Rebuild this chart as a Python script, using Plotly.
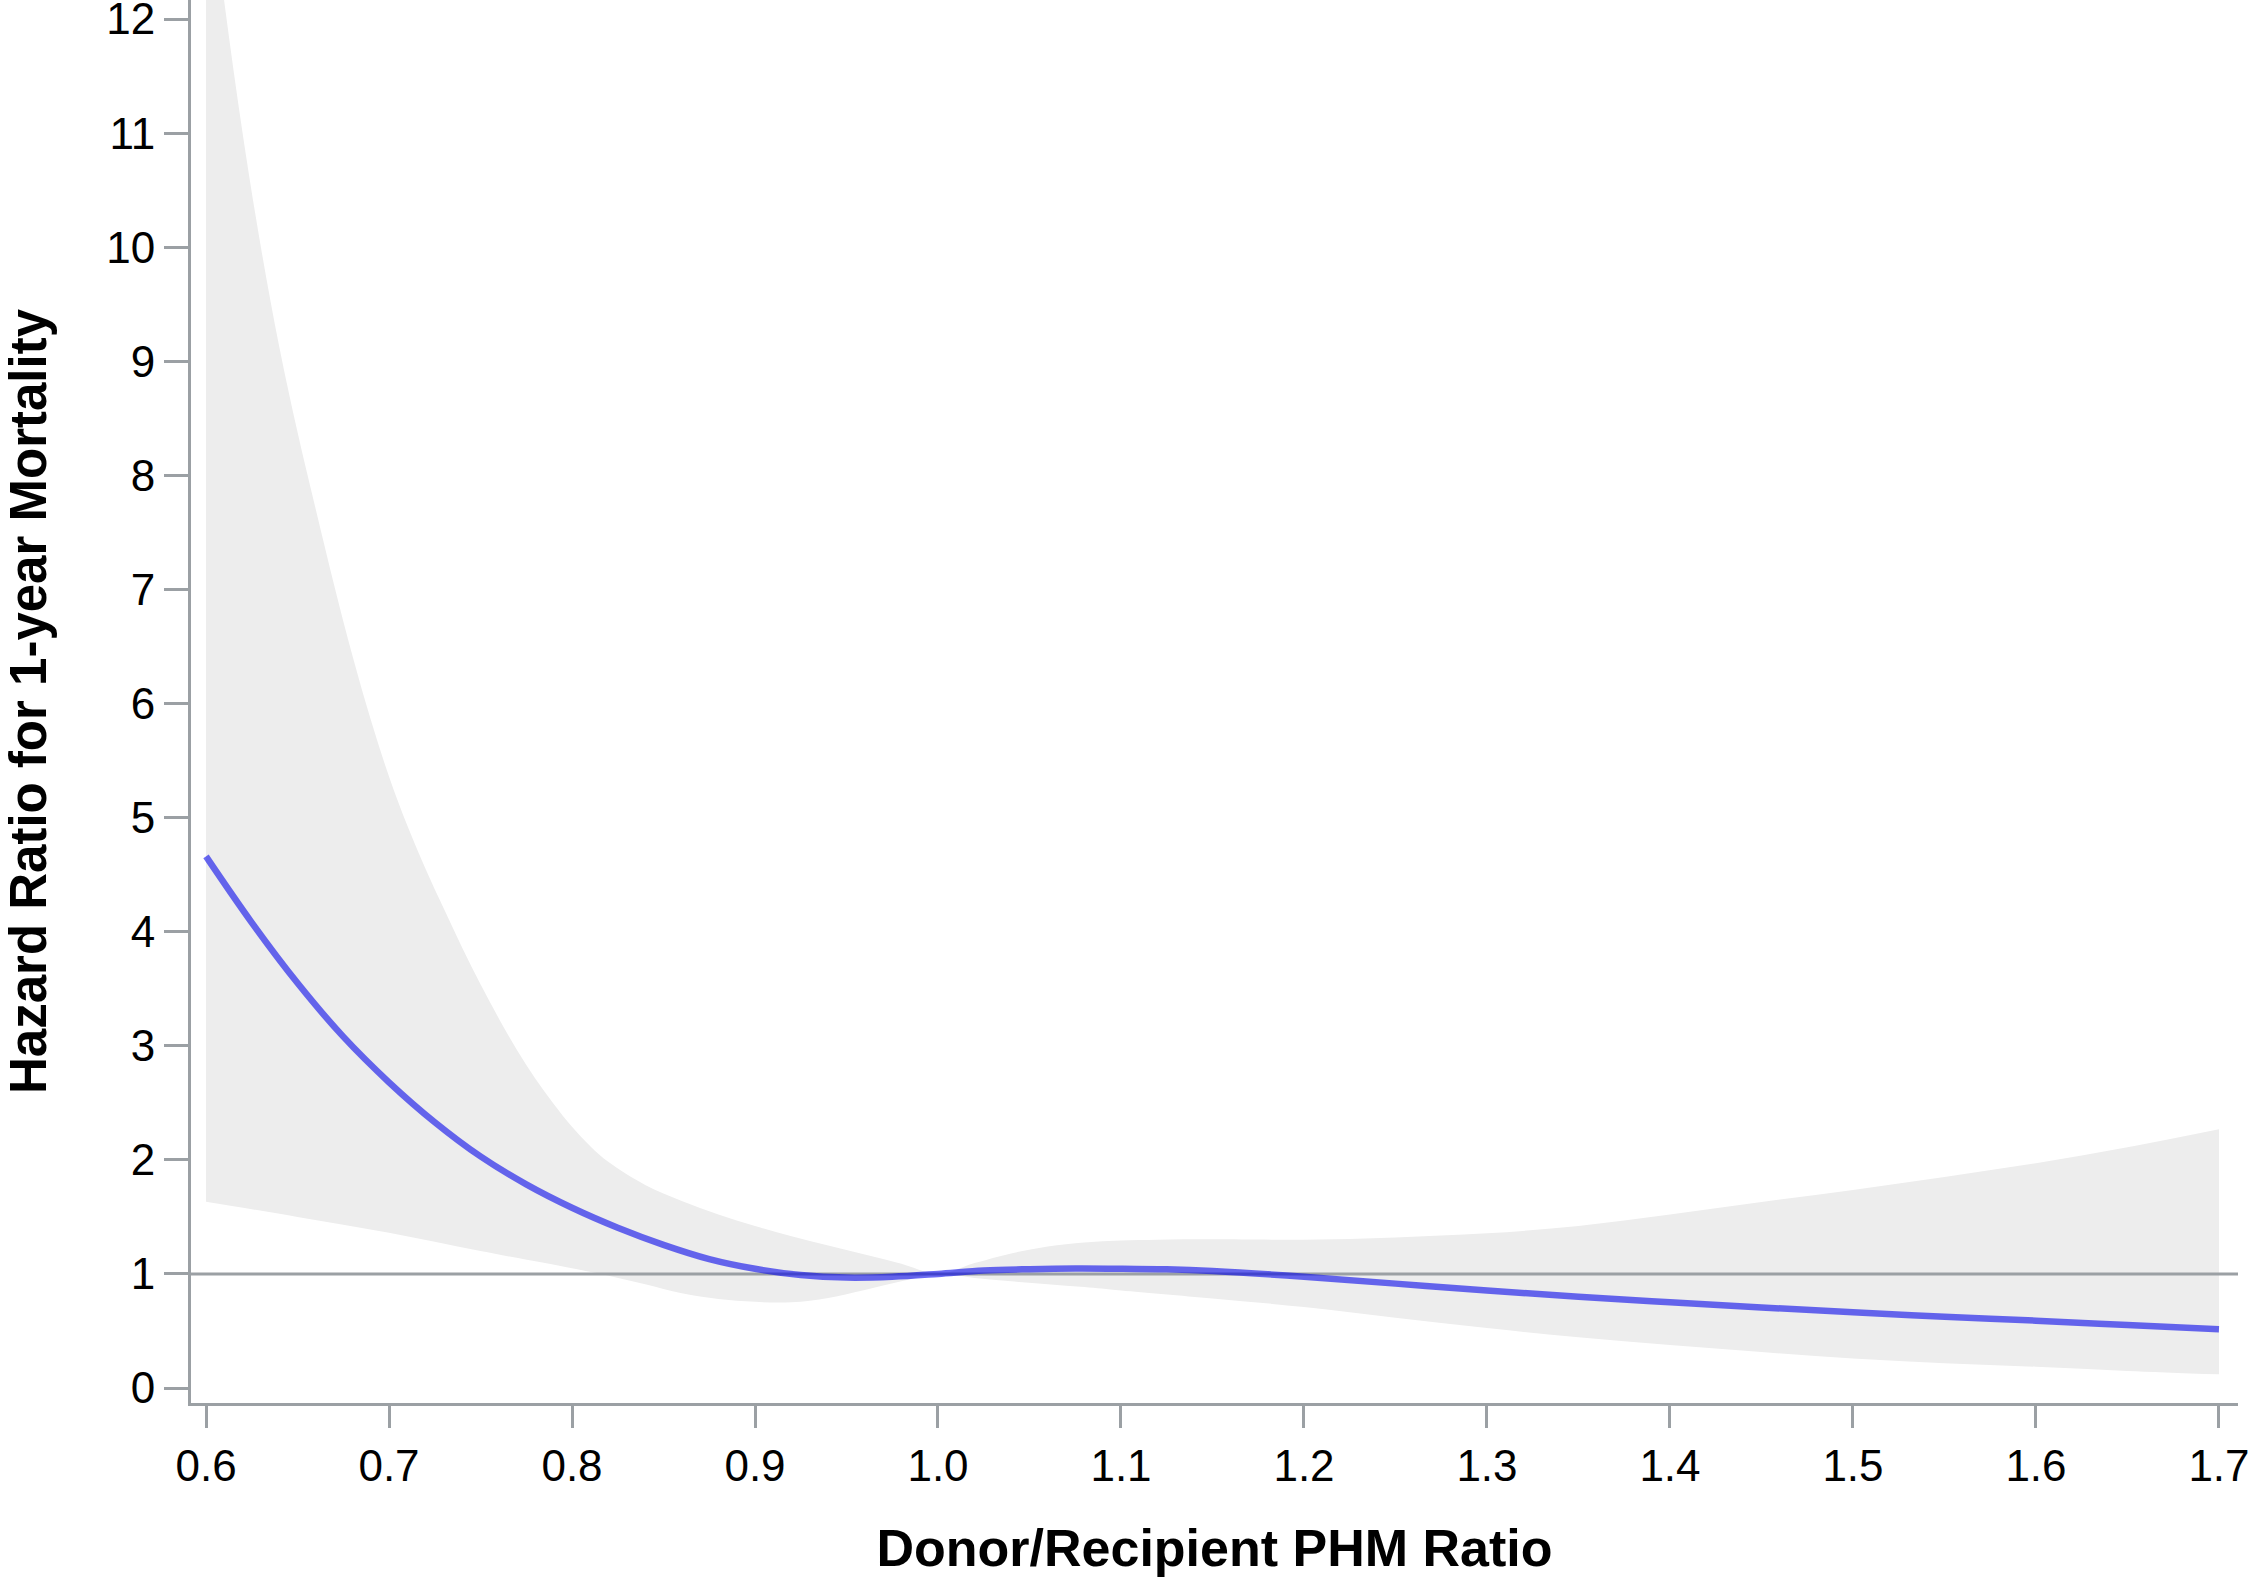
import plotly.graph_objects as go

# ---- data ----
band_upper_x = [0.600, 0.610, 0.620, 0.630, 0.640, 0.650, 0.660, 0.670, 0.680, 0.690,
                0.700, 0.710, 0.720, 0.730, 0.740, 0.750, 0.760, 0.770, 0.780, 0.790,
                0.800, 0.810, 0.820, 0.840, 0.860, 0.880, 0.900, 0.920, 0.940, 0.960,
                0.980, 1.000, 1.020, 1.040, 1.060, 1.080, 1.100, 1.120, 1.150, 1.200,
                1.250, 1.300, 1.350, 1.400, 1.450, 1.500, 1.550, 1.600, 1.650, 1.700]
band_upper_y = [13.45, 12.15, 11.00, 10.00, 9.13, 8.38, 7.70, 7.04, 6.42, 5.86,
                5.36, 4.93, 4.55, 4.20, 3.86, 3.54, 3.24, 2.96, 2.71, 2.49,
                2.29, 2.12, 1.98, 1.78, 1.64, 1.52, 1.42, 1.33, 1.25, 1.17,
                1.09, 1.00, 1.095, 1.18, 1.24, 1.275, 1.292, 1.300, 1.303, 1.300,
                1.320, 1.356, 1.42, 1.52, 1.63, 1.736, 1.85, 1.97, 2.11, 2.268]

band_lower_x = [0.600, 0.650, 0.700, 0.750, 0.800, 0.820, 0.840, 0.860, 0.880, 0.900,
                0.920, 0.940, 0.960, 0.980, 1.000, 1.020, 1.040, 1.060, 1.080, 1.100,
                1.150, 1.200, 1.250, 1.300, 1.350, 1.400, 1.450, 1.500, 1.550, 1.600,
                1.650, 1.700]
band_lower_y = [1.633, 1.50, 1.36, 1.20, 1.05, 0.985, 0.91, 0.83, 0.78, 0.755,
                0.752, 0.79, 0.86, 0.935, 1.00, 0.965, 0.935, 0.91, 0.885, 0.855,
                0.785, 0.71, 0.615, 0.525, 0.445, 0.377, 0.315, 0.259, 0.218, 0.186,
                0.150, 0.120]

hr_x = [0.600, 0.625, 0.650, 0.675, 0.700, 0.725, 0.750, 0.775, 0.800, 0.825,
        0.850, 0.875, 0.900, 0.925, 0.950, 0.975, 1.000, 1.025, 1.050, 1.075,
        1.100, 1.125, 1.150, 1.200, 1.250, 1.300, 1.350, 1.400, 1.450, 1.500,
        1.550, 1.600, 1.650, 1.700]
hr_y = [4.66, 4.08, 3.55, 3.08, 2.68, 2.33, 2.03, 1.785, 1.58, 1.405,
        1.255, 1.13, 1.045, 0.99, 0.968, 0.975, 1.00, 1.03, 1.042, 1.048,
        1.046, 1.040, 1.025, 0.976, 0.915, 0.854, 0.800, 0.752, 0.706, 0.663,
        0.625, 0.590, 0.552, 0.514]

reference_hr = 1.0

x_tick_vals = [0.6, 0.7, 0.8, 0.9, 1.0, 1.1, 1.2, 1.3, 1.4, 1.5, 1.6, 1.7]
x_tick_text = ["0.6", "0.7", "0.8", "0.9", "1.0", "1.1", "1.2", "1.3", "1.4", "1.5", "1.6", "1.7"]
y_tick_vals = [0, 1, 2, 3, 4, 5, 6, 7, 8, 9, 10, 11, 12]
y_tick_text = [str(v) for v in y_tick_vals]

x_range = [0.5918, 1.7104]
y_range = [-0.1315, 12.167]

# ---- styling ----
AXIS_GRAY = "#9ba0a4"
BAND_GRAY = "#ededed"
LINE_BLUE = "rgba(0,0,235,0.58)"
FONT = "Liberation Sans, Arial, Helvetica, sans-serif"

fig = go.Figure()

fig.add_trace(go.Scatter(
    x=band_lower_x, y=band_lower_y, mode="lines",
    line=dict(width=0, color=BAND_GRAY, shape="spline", smoothing=1.0),
    hoverinfo="skip", showlegend=False))
fig.add_trace(go.Scatter(
    x=band_upper_x, y=band_upper_y, mode="lines", fill="tonexty", fillcolor=BAND_GRAY,
    line=dict(width=0, color=BAND_GRAY, shape="spline", smoothing=1.0),
    hoverinfo="skip", showlegend=False))
fig.add_trace(go.Scatter(
    x=x_range, y=[reference_hr, reference_hr], mode="lines",
    line=dict(width=3, color=AXIS_GRAY), hoverinfo="skip", showlegend=False))
fig.add_trace(go.Scatter(
    x=hr_x, y=hr_y, mode="lines",
    line=dict(width=6.5, color=LINE_BLUE, shape="spline", smoothing=1.0),
    showlegend=False))

axis_common = dict(
    showgrid=False, zeroline=False, showline=True, linewidth=3, linecolor=AXIS_GRAY,
    ticks="outside", tickwidth=3, tickcolor=AXIS_GRAY,
    tickfont=dict(family=FONT, size=44, color="black"),
    automargin=False, ticklabeloverflow="allow",
)

fig.update_layout(
    template="none",
    width=2250, height=1577,
    margin=dict(l=191, r=12, t=0, b=174, pad=0),
    plot_bgcolor="white", paper_bgcolor="white",
    showlegend=False,
    font=dict(family=FONT, color="black"),
    xaxis=dict(
        **axis_common, range=x_range, ticklen=22,
        tickvals=x_tick_vals, ticktext=x_tick_text,
        title=dict(text="Donor/Recipient PHM Ratio",
                   font=dict(family=FONT, size=52, color="black", weight="bold"),
                   standoff=41),
    ),
    yaxis=dict(
        **axis_common, range=y_range, ticklen=24,
        tickvals=y_tick_vals, ticktext=y_tick_text,
        title=dict(text="Hazard Ratio for 1-year Mortality",
                   font=dict(family=FONT, size=51, color="black", weight="bold"),
                   standoff=52),
    ),
)

fig.write_html("out.html")
